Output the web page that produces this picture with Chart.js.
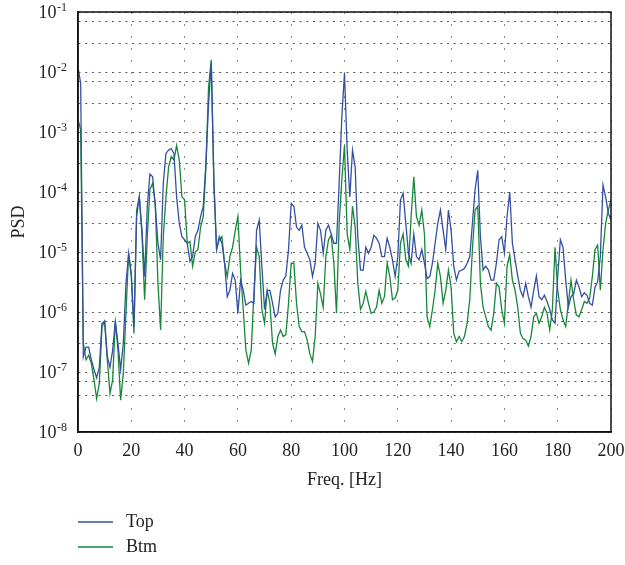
<!DOCTYPE html>
<html lang="en">
<head>
    <meta charset="UTF-8">
    <title>PSD</title>
    <script src="https://cdn.jsdelivr.net/npm/chart.js@4.4.0/dist/chart.umd.min.js"></script>
    <style>
        body { margin: 0; background: #fff; }
    </style>
</head>
<body>

<canvas id="psd-chart" width="625" height="565"></canvas>

<script>

    // frequency bins, 1 Hz apart
    const freq = Array.from({length: 201}, (_, i) => i);

    const topPsd = [
        1.2e-2, 6.5e-3, 1.8e-7, 2.6e-7, 2.6e-7, 1.6e-7, 1.1e-7, 8e-8, 1.2e-7, 6.5e-7,
        7e-7, 1.8e-7, 1.2e-7, 2.3e-7, 7e-7, 3e-7, 1.1e-7, 3e-7, 3e-6, 9.5e-6,
        3.9e-6, 5.7e-7, 3.9e-5, 8.3e-5, 2.3e-5, 3.9e-6, 5.8e-5, 2e-4, 1.8e-4, 5.8e-5,
        1.4e-5, 7.4e-6, 1.4e-4, 4.4e-4, 5e-4, 5.3e-4, 4.4e-4, 8.3e-5, 3e-5, 1.8e-5,
        1.6e-5, 1.4e-5, 7e-6, 8.4e-6, 1.8e-5, 2.3e-5, 3.9e-5, 5.8e-5, 3e-4, 3e-3,
        1.4e-2, 1.4e-4, 1.1e-5, 1.8e-5, 1.4e-5, 6.5e-6, 1.8e-6, 2.3e-6, 4.4e-6, 3.4e-6,
        9.5e-7, 3.4e-6, 2.3e-6, 1.3e-6, 1.4e-6, 1.5e-6, 1.4e-6, 2.3e-5, 3.4e-5, 5.8e-6,
        1.1e-6, 2.3e-6, 2.3e-6, 1.4e-6, 8.3e-7, 9.5e-7, 2.3e-6, 3.4e-6, 4e-6, 1.1e-5,
        6.5e-5, 5.8e-5, 2.6e-5, 2.3e-5, 2.8e-5, 1.2e-5, 9.5e-6, 7.4e-6, 3.9e-6, 6.5e-6,
        3e-5, 2.3e-5, 9.5e-6, 2.3e-5, 2.8e-5, 2e-5, 1.4e-5, 1.4e-5, 1.4e-4, 1.8e-3,
        9.5e-3, 5e-4, 8.3e-5, 5e-4, 2.6e-4, 1.8e-5, 5e-6, 5e-6, 1.2e-5, 9.5e-6,
        1.2e-5, 1.9e-5, 1.7e-5, 1.4e-5, 8.4e-6, 8.4e-6, 1.7e-5, 1.2e-5, 7.4e-6, 3.9e-6,
        8.4e-6, 7.4e-5, 9.5e-5, 3e-5, 9.5e-6, 6.5e-6, 2e-5, 8.4e-6, 7.4e-6, 1.1e-5,
        6.5e-6, 3.6e-6, 3.9e-6, 6.5e-6, 1.4e-5, 3e-5, 5e-5, 2.3e-5, 1.1e-5, 5e-5,
        2.3e-5, 5.8e-6, 3.4e-6, 4.8e-6, 5e-6, 5.3e-6, 6.5e-6, 8.4e-6, 3e-5, 1.1e-4,
        2.3e-4, 1.8e-5, 5e-6, 5.8e-6, 5e-6, 3.4e-6, 3.4e-6, 6.5e-6, 1.6e-5, 1.8e-5,
        9.5e-6, 3.9e-5, 1e-4, 1.4e-5, 7.4e-6, 4e-6, 2.3e-6, 1.8e-6, 3e-6, 1.8e-6,
        1.2e-6, 2.3e-6, 4e-6, 1.8e-6, 1.6e-6, 1.9e-6, 1.5e-6, 1.1e-6, 7.4e-7, 6.5e-7,
        3.9e-6, 1.6e-5, 1.2e-5, 3.4e-6, 1.2e-6, 1.8e-6, 2e-6, 3.4e-6, 2.6e-6, 1.8e-6,
        2.1e-6, 1.9e-6, 1.4e-6, 1.3e-6, 2.6e-6, 3.2e-6, 8.4e-6, 1.3e-4, 8.3e-5, 4.4e-5,
        3.4e-5
    ];

    const btmPsd = [
        1.6e-3, 1.1e-3, 3e-7, 1.6e-7, 1.9e-7, 1.4e-7, 7.4e-8, 3.6e-8, 6.5e-8, 5.7e-7,
        7e-7, 1.6e-7, 4.4e-8, 7.4e-8, 7e-7, 2.3e-7, 3.4e-8, 9.5e-8, 9.5e-7, 9.5e-6,
        4.4e-6, 4.4e-7, 5e-5, 8.3e-5, 2e-5, 1.6e-6, 1.8e-5, 1.1e-4, 1.4e-4, 6.5e-5,
        3e-6, 5e-7, 1.8e-5, 8.3e-5, 2.6e-4, 3.9e-4, 3.4e-4, 6e-4, 3.4e-4, 8.3e-5,
        7.4e-5, 1.4e-5, 1.5e-5, 5.8e-6, 1e-5, 1.1e-5, 2.6e-5, 3.9e-5, 2.6e-4, 5.7e-3,
        1.6e-2, 1.4e-4, 1.1e-5, 1.6e-5, 1.8e-5, 6.5e-6, 3.9e-6, 8.4e-6, 1.2e-5, 2.3e-5,
        3.9e-5, 5e-6, 1.1e-6, 2.3e-7, 1.4e-7, 2.3e-7, 2e-6, 1.2e-5, 8.4e-6, 1.1e-6,
        6.5e-7, 2.3e-6, 1.4e-6, 3e-7, 2e-7, 3.9e-7, 5e-7, 3.9e-7, 4.2e-7, 1.4e-6,
        6.5e-6, 6.5e-6, 1.4e-6, 5.7e-7, 4.7e-7, 4.7e-7, 3.4e-7, 2e-7, 1.5e-7, 3.9e-7,
        3e-6, 2e-6, 1.2e-6, 8.4e-6, 1.6e-5, 1.9e-5, 6.5e-6, 9.5e-7, 3e-5, 1.6e-4,
        6e-4, 2e-5, 1.1e-5, 5.8e-5, 2.6e-5, 3e-6, 1.1e-6, 1.4e-6, 2.2e-6, 1.4e-6,
        9.5e-7, 1e-6, 1.2e-6, 2.3e-6, 1.4e-6, 1.8e-6, 6.5e-6, 3.9e-6, 1.6e-6, 1.7e-6,
        2.3e-6, 1.4e-5, 2e-5, 7.4e-6, 5.8e-6, 3.9e-5, 1.8e-4, 3.9e-5, 2.8e-5, 5e-5,
        2e-5, 8.3e-7, 5.7e-7, 1.1e-6, 2.3e-6, 6.5e-6, 3.9e-6, 1.4e-6, 2.3e-6, 5e-6,
        2.6e-6, 4.4e-7, 3.2e-7, 3.9e-7, 3.2e-7, 3.9e-7, 6.5e-7, 1.6e-6, 1.1e-5, 5e-5,
        5.8e-5, 3e-6, 1.2e-6, 8.3e-7, 5.7e-7, 5e-7, 9.5e-7, 3e-6, 2.6e-6, 1.1e-6,
        6.5e-7, 5.8e-6, 9e-6, 3.4e-6, 2.3e-6, 1.2e-6, 4.4e-7, 3.6e-7, 3.4e-7, 2.7e-7,
        3.9e-7, 8.3e-7, 9.5e-7, 6.5e-7, 8.3e-7, 1.2e-6, 9.5e-7, 5e-7, 1.1e-6, 1.2e-5,
        2.3e-6, 1.1e-6, 7.4e-7, 5.7e-7, 1.4e-6, 3.4e-6, 1.6e-6, 8.9e-7, 8.3e-7, 1.1e-6,
        1.5e-6, 1.4e-6, 1.7e-6, 3.9e-6, 1.1e-5, 1.3e-5, 2.3e-6, 1.1e-5, 3e-5, 5e-5,
        7.4e-5
    ];

    const seriesLabels = ['Top', 'Btm'];
    const seriesColors = ['#3550a3', '#17873a'];

    // y tick labels: value and its exponent
    const yTicks = [1e-1, 1e-2, 1e-3, 1e-4, 1e-5, 1e-6, 1e-7, 1e-8];
    const yExponents = ['-1', '-2', '-3', '-4', '-5', '-6', '-7', '-8'];

    const serif = '"Liberation Serif", "DejaVu Serif", serif';

    const yLabelPlugin = {
        id: 'yLabels',
        afterDraw(chart) {
            const ctx = chart.ctx, y = chart.scales.y;
            const right = 67;
            ctx.save();
            ctx.fillStyle = '#222';
            ctx.textAlign = 'right';
            yTicks.forEach((v, i) => {
                const py = y.getPixelForValue(v);
                ctx.font = '12px ' + serif;
                ctx.textBaseline = 'alphabetic';
                const ew = ctx.measureText(yExponents[i]).width;
                ctx.fillText(yExponents[i], right, py - 1);
                ctx.font = '18px ' + serif;
                ctx.textBaseline = 'middle';
                ctx.fillText('10', right - ew - 0.5, py + 1);
            });
            ctx.restore();
        }
    };

    const boxPlugin = {
        id: 'box',
        afterDraw(chart) {
            const ctx = chart.ctx, a = chart.chartArea;
            ctx.save();
            ctx.strokeStyle = '#111';
            ctx.lineWidth = 1.5;
            ctx.strokeRect(a.left, a.top, a.right - a.left, a.bottom - a.top);
            ctx.restore();
        }
    };

    const legendPlugin = {
        id: 'stackLegend',
        afterDraw(chart) {
            const ctx = chart.ctx;
            ctx.save();
            ctx.font = '18px ' + serif;
            ctx.textBaseline = 'middle';
            ctx.textAlign = 'left';
            chart.data.datasets.forEach((ds, i) => {
                const ly = 522 + i * 25;
                ctx.strokeStyle = ds.borderColor;
                ctx.lineWidth = 1.5;
                ctx.beginPath();
                ctx.moveTo(78, ly);
                ctx.lineTo(113, ly);
                ctx.stroke();
                ctx.fillStyle = '#222';
                ctx.fillText(ds.label, 126, ly);
            });
            ctx.restore();
        }
    };

    function makeSeries(values) {
        return values.map((v, i) => ({x: freq[i], y: v}));
    }

    new Chart('psd-chart', {
        type: 'line',
        data: {
            datasets: [topPsd, btmPsd].map((vals, i) => ({
                label: seriesLabels[i],
                data: makeSeries(vals),
                borderColor: seriesColors[i],
                borderWidth: 1.3,
                pointRadius: 0,
                tension: 0,
                fill: false
            }))
        },
        options: {
            responsive: false,
            animation: false,
            layout: {padding: {top: 12, right: 14, left: 0, bottom: 65}},
            plugins: {
                legend: {display: false},
                tooltip: {enabled: false}
            },
            scales: {
                x: {
                    type: 'linear',
                    min: 0,
                    max: 200,
                    afterFit: s => {
                        s.height = 68;
                        s.paddingLeft = 0;
                        s.paddingRight = 0;
                    },
                    ticks: {
                        stepSize: 20,
                        padding: 8,
                        color: '#222',
                        font: {family: serif, size: 18}
                    },
                    grid: {color: '#888', lineWidth: 1, drawTicks: false},
                    border: {color: '#111', width: 1.5, dash: [2, 10]},
                    title: {
                        display: true,
                        text: 'Freq. [Hz]',
                        color: '#222',
                        font: {family: serif, size: 18},
                        padding: {top: 0, bottom: 9}
                    }
                },
                y: {
                    type: 'logarithmic',
                    min: 1e-8,
                    max: 1e-1,
                    afterFit: s => {
                        s.width = 78;
                        s.paddingTop = 0;
                        s.paddingBottom = 0;
                    },
                    ticks: {callback: () => '', padding: 0},
                    grid: {color: '#555', lineWidth: 1, drawTicks: false},
                    border: {color: '#111', width: 1.5, dash: [2, 4.7]},
                    title: {
                        display: true,
                        text: 'PSD',
                        color: '#222',
                        font: {family: serif, size: 18},
                        padding: {top: 8, bottom: 0}
                    }
                }
            }
        },
        plugins: [yLabelPlugin, boxPlugin, legendPlugin]
    });

</script>

</body>
</html>
